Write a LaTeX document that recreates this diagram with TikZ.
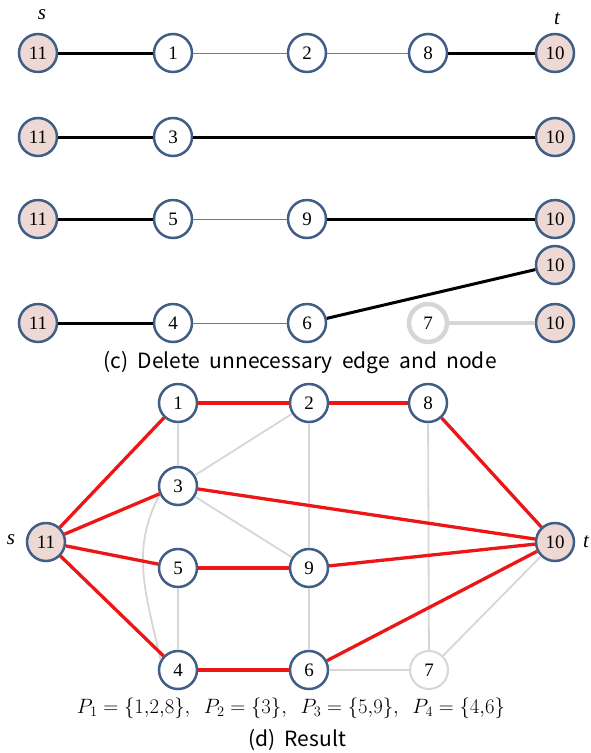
\documentclass[tikz,border=0pt]{standalone}
\usepackage{fontspec}
\setmainfont{Liberation Serif}
\newfontfamily\capfont{Noto Sans CJK KR}
\definecolor{nb}{RGB}{64,94,134}
\definecolor{stf}{RGB}{238,216,212}
\definecolor{thinb}{RGB}{84,130,178}
\definecolor{rd}{RGB}{236,22,22}
\definecolor{gry}{RGB}{214,214,214}
\tikzset{
  vtx/.style={circle, draw=nb, line width=2.5pt, fill=white, minimum size=38pt, inner sep=0pt, font=\fontsize{19}{19}\selectfont},
  stv/.style={vtx, fill=stf},
  ghost/.style={vtx, draw=gry, line width=4.5pt},
  ghostthin/.style={vtx, draw=gry, line width=2pt},
  blk/.style={line width=3pt, black},
  thn/.style={line width=1pt, thinb},
  gthick/.style={line width=4.5pt, gry},
  rededge/.style={line width=3.3pt, rd},
  gedge/.style={line width=1.8pt, gry},
  lab/.style={font=\fontsize{21}{21}\selectfont\itshape, inner sep=0pt},
  captxt/.style={font=\capfont\fontsize{21}{21}\selectfont, inner sep=0pt},
}
\begin{document}
\begin{tikzpicture}[x=1pt,y=1pt]
\useasboundingbox (0,0) rectangle (591,-753);
% ---------- (c) ----------
\node[lab] (sA) at (42,-15) {s};
\node[lab] (tA) at (557,-19) {t};
% row 1
\node[stv] (a11) at (38,-53) {11};
\node[vtx] (a1) at (173,-53) {1};
\node[vtx] (a2) at (307,-53) {2};
\node[vtx] (a8) at (428,-53) {8};
\node[stv] (a10) at (555,-53) {10};
\draw[blk] (a11) -- (a1);
\draw[thn] (a1) -- (a2);
\draw[thn] (a2) -- (a8);
\draw[blk] (a8) -- (a10);
% row 2
\node[stv] (b11) at (38,-137) {11};
\node[vtx] (b3) at (173,-137) {3};
\node[stv] (b10) at (555,-137) {10};
\draw[blk] (b11) -- (b3);
\draw[blk] (b3) -- (b10);
% row 3
\node[stv] (c11) at (38,-219) {11};
\node[vtx] (c5) at (173,-219) {5};
\node[vtx] (c9) at (307,-219) {9};
\node[stv] (c10) at (555,-219) {10};
\draw[blk] (c11) -- (c5);
\draw[thn] (c5) -- (c9);
\draw[blk] (c9) -- (c10);
% rows 4-5
\node[stv] (d10) at (555,-265) {10};
\node[stv] (e11) at (38,-323) {11};
\node[vtx] (e4) at (173,-323) {4};
\node[vtx] (e6) at (307,-323) {6};
\node[ghost] (e7) at (428,-323) {7};
\node[stv] (e10) at (555,-323) {10};
\draw[blk] (e11) -- (e4);
\draw[thn] (e4) -- (e6);
\draw[blk] (e6) -- (d10);
\draw[gthick] (e7) -- (e10);
\node[captxt] (capc) at (300,-363) {(c)\ \ Delete\ \ unnecessary\ \ edge\ \ and\ \ node};
% ---------- (d) ----------
\node[stv] (n11) at (46,-542) {11};
\node[stv] (n10) at (555,-542) {10};
\node[lab] (sB) at (11,-540) {s};
\node[lab] (tB) at (586,-542) {t};
\node[vtx] (n1) at (178,-403) {1};
\node[vtx] (n2) at (309,-403) {2};
\node[vtx] (n8) at (428,-403) {8};
\node[vtx] (n3) at (178,-486) {3};
\node[vtx] (n5) at (178,-568) {5};
\node[vtx] (n9) at (309,-568) {9};
\node[vtx] (n4) at (178,-670) {4};
\node[vtx] (n6) at (309,-670) {6};
\node[ghostthin] (n7) at (429,-670) {7};
% gray edges
\draw[gedge] (n1) -- (n3);
\draw[gedge] (n3) -- (n2);
\draw[gedge] (n2) -- (n9);
\draw[gedge] (n3) -- (n9);
\draw[gedge] (n5) -- (n4);
\draw[gedge] (n9) -- (n6);
\draw[gedge] (n8) -- (n7);
\draw[gedge] (n6) -- (n7);
\draw[gedge] (n7) -- (n10);
\draw[gedge] (n3.205) to[out=242, in=102] (n4.150);
% red edges
\draw[rededge] (n11) -- (n1);
\draw[rededge] (n1) -- (n2);
\draw[rededge] (n2) -- (n8);
\draw[rededge] (n8) -- (n10);
\draw[rededge] (n11) -- (n3);
\draw[rededge] (n3) -- (n10);
\draw[rededge] (n11) -- (n5);
\draw[rededge] (n5) -- (n9);
\draw[rededge] (n9) -- (n10);
\draw[rededge] (n11) -- (n4);
\draw[rededge] (n4) -- (n6);
\draw[rededge] (n6) -- (n10);
\node[inner sep=0pt, font=\fontsize{20.5}{20.5}\selectfont] (form) at (291,-708) {$P_1=\{1{,}2{,}8\},\ \ P_2=\{3\},\ \ P_3=\{5{,}9\},\ \ P_4=\{4{,}6\}$};
\node[captxt] (capd) at (297,-740) {(d)\ \ Result};
\end{tikzpicture}
\end{document}
